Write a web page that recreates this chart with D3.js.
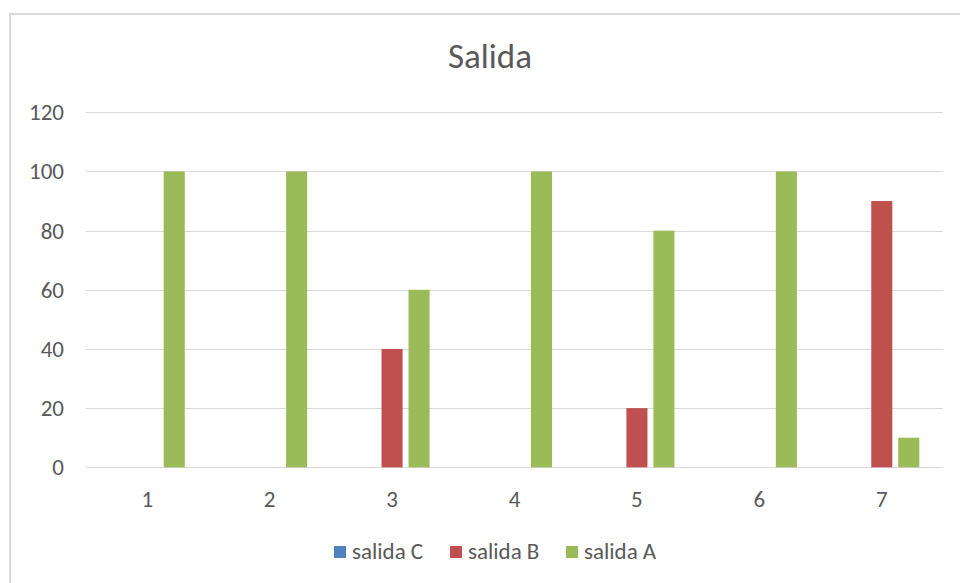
<!DOCTYPE html>
<html>
<head>
<meta charset="utf-8">
<script src="https://cdn.jsdelivr.net/npm/d3@7"></script>
<style>
  html, body { margin: 0; padding: 0; background: #fff; }
  svg { display: block; }
  text { font-family: Carlito, Calibri, Lato, "Open Sans", "Liberation Sans", sans-serif; fill: #595959; }
</style>
</head>
<body>
<script>
// Categories along the x axis
const categories = ["1", "2", "3", "4", "5", "6", "7"];
// Series names, in drawing/legend order
const seriesNames = ["salida C", "salida B", "salida A"];
// Series values per category
const salidaC = [0, 0, 0, 0, 0, 0, 0];
const salidaB = [0, 0, 40, 0, 20, 0, 90];
const salidaA = [100, 100, 60, 100, 80, 100, 10];
const seriesColors = ["#4F81BD", "#C0504D", "#9BBB59"];
// Y axis ticks
const yTicks = [0, 20, 40, 60, 80, 100, 120];

const seriesValues = [salidaC, salidaB, salidaA];
const FONT = "Carlito, Calibri, Lato, 'Open Sans', 'Liberation Sans', sans-serif";

const W = 960, H = 583;
const svg = d3.select("body").append("svg").attr("width", W).attr("height", H);

// Chart frame
svg.append("rect")
  .attr("x", 10).attr("y", 14)
  .attr("width", 980).attr("height", 600)
  .attr("fill", "#fff")
  .attr("stroke", "#d9d9d9").attr("stroke-width", 2);

const plot = { left: 86, right: 943, top: 112.3, bottom: 467.3 };

const y = d3.scaleLinear().domain([0, 120]).range([plot.bottom, plot.top]);
const x0 = d3.scaleBand().domain(categories).range([plot.left, plot.right]).padding(0);
const groupW = 81;
const x1 = d3.scaleBand().domain(seriesNames)
  .range([-groupW / 2, groupW / 2])
  .paddingInner(0.22).paddingOuter(0.11);

// Gridlines
svg.append("g").selectAll("line").data(yTicks).join("line")
  .attr("x1", plot.left).attr("x2", plot.right)
  .attr("y1", d => Math.round(y(d)) + 0.5).attr("y2", d => Math.round(y(d)) + 0.5)
  .attr("stroke", "#d9d9d9").attr("stroke-width", 1);

// Y axis labels
const yAxis = d3.axisLeft(y).tickValues(yTicks).tickSize(0).tickPadding(0);
const gy = svg.append("g").attr("transform", `translate(64,0)`).call(yAxis);
gy.select(".domain").remove();
gy.selectAll("text").attr("font-size", 23).style("fill", "#595959")
  .style("font-family", FONT);

// X axis labels
const xAxis = d3.axisBottom(x0).tickSize(0).tickPadding(0);
const gx = svg.append("g").attr("transform", `translate(0,507)`).call(xAxis);
gx.select(".domain").remove();
gx.selectAll("text").attr("y", 0).attr("dy", 0)
  .attr("font-size", 23).style("fill", "#595959")
  .style("font-family", FONT);

// Bars
const groups = svg.append("g").selectAll("g").data(categories).join("g")
  .attr("transform", d => `translate(${x0(d) + x0.bandwidth() / 2},0)`);

groups.selectAll("rect")
  .data((c, i) => seriesNames.map((s, j) => ({ s, v: seriesValues[j][i], color: seriesColors[j] })))
  .join("rect")
  .attr("x", d => x1(d.s))
  .attr("width", x1.bandwidth())
  .attr("y", d => y(d.v))
  .attr("height", d => y(0) - y(d.v))
  .attr("fill", d => d.color);

// Title
svg.append("text")
  .attr("x", 490).attr("y", 68)
  .attr("text-anchor", "middle")
  .attr("font-size", 35)
  .text("Salida");

// Legend
const legendX = [334, 450, 566];
const legend = svg.append("g").selectAll("g").data(seriesNames).join("g")
  .attr("transform", (d, i) => `translate(${legendX[i]},546)`);
legend.append("rect").attr("width", 12).attr("height", 12)
  .attr("fill", (d, i) => seriesColors[i]);
legend.append("text").attr("x", 18).attr("y", 13)
  .attr("font-size", 23).text(d => d);
</script>
</body>
</html>
